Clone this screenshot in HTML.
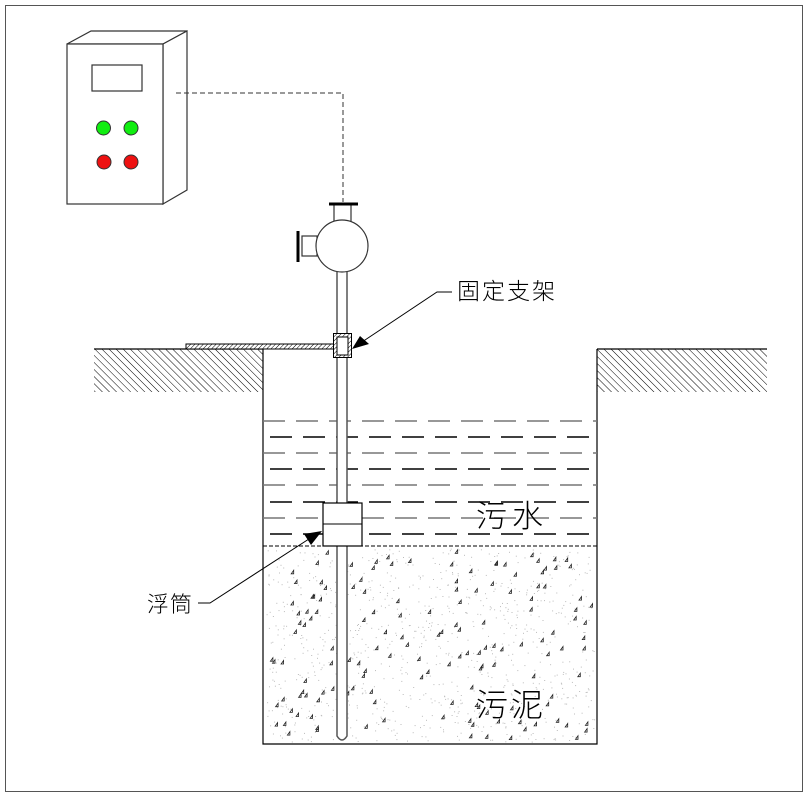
<!DOCTYPE html>
<html><head><meta charset="utf-8"><style>
html,body{margin:0;padding:0;background:#fff}
svg{display:block}
text{font-family:"Liberation Sans","Noto Sans CJK SC",sans-serif;font-weight:300}
</style></head><body>
<svg id="s" width="808" height="797" viewBox="0 0 808 797" xmlns="http://www.w3.org/2000/svg">
<defs>
<pattern id="h" patternUnits="userSpaceOnUse" width="5" height="5" patternTransform="rotate(-45)">
<rect width="5" height="5" fill="#fff"/><line x1="0" y1="0" x2="0" y2="5" stroke="#000" stroke-width="1"/></pattern>
<pattern id="h2" patternUnits="userSpaceOnUse" width="3" height="3" patternTransform="rotate(45)">
<rect width="3" height="3" fill="#fff"/><line x1="0" y1="0" x2="0" y2="3" stroke="#000" stroke-width="1"/></pattern>
</defs>
<rect x="5.5" y="5.5" width="797" height="786" fill="none" stroke="#555" stroke-width="1"/>
<g fill="none" stroke="#333" stroke-width="1.2">
<polygon points="67,44 91,31 187,31 163,44" fill="#fff"/>
<polygon points="163,44 187,31 187,190 163,204" fill="#fff"/>
<rect x="67" y="44" width="96" height="160" fill="#fff"/>
<rect x="92" y="65" width="50" height="26"/>
</g>
<g stroke="#333" stroke-width="1">
<circle cx="103.5" cy="128" r="7" fill="#11ee11"/>
<circle cx="131" cy="128" r="7" fill="#11ee11"/>
<circle cx="104" cy="162" r="7" fill="#ee1111"/>
<circle cx="131" cy="162" r="7" fill="#ee1111"/>
</g>
<polyline points="176,93 343,93 343,202" fill="none" stroke="#333" stroke-width="1" stroke-dasharray="5 3"/>
<rect x="94" y="349" width="169" height="43" fill="url(#h)"/>
<rect x="597" y="349" width="170" height="43" fill="url(#h)"/>
<g stroke="#000" stroke-width="1.2" fill="none">
<line x1="94" y1="349" x2="263" y2="349"/>
<line x1="597" y1="349" x2="767" y2="349"/>
<polyline points="263,349 263,744 597,744 597,349"/>
</g>
<g stroke-width="1.4">
<line x1="263" y1="421" x2="597" y2="421" stroke="#777" stroke-dasharray="22 11"/>
<line x1="270" y1="437" x2="597" y2="437" stroke="#000" stroke-dasharray="22 11"/>
<line x1="263" y1="453" x2="597" y2="453" stroke="#777" stroke-dasharray="22 11"/>
<line x1="270" y1="469" x2="597" y2="469" stroke="#000" stroke-dasharray="22 11"/>
<line x1="263" y1="485" x2="597" y2="485" stroke="#777" stroke-dasharray="22 11"/>
<line x1="270" y1="502" x2="597" y2="502" stroke="#000" stroke-dasharray="22 11"/>
<line x1="263" y1="518" x2="597" y2="518" stroke="#777" stroke-dasharray="22 11"/>
<line x1="270" y1="534" x2="597" y2="534" stroke="#000" stroke-dasharray="22 11"/>
</g>
<line x1="263" y1="546" x2="597" y2="546" stroke="#000" stroke-width="1" stroke-dasharray="4 2"/>
<g id="dots"></g>
<path d="M337,272 L337,736 Q342,744 347,736 L347,272" fill="#fff" stroke="#555" stroke-width="1.5"/>
<g stroke="#333" stroke-width="1.2" fill="#fff">
<rect x="334" y="204" width="17" height="20"/>
<rect x="302" y="236" width="15" height="20"/>
<circle cx="342" cy="246" r="26"/>
</g>
<line x1="329" y1="204" x2="358" y2="204" stroke="#000" stroke-width="3"/>
<line x1="298" y1="231" x2="298" y2="262" stroke="#000" stroke-width="3"/>
<rect x="186" y="344" width="148" height="5" fill="url(#h2)" stroke="#000" stroke-width="1"/>
<rect x="333.5" y="333.5" width="18" height="24" fill="url(#h2)" stroke="#000" stroke-width="1"/>
<rect x="337" y="337" width="11" height="18" fill="#fff" stroke="#000" stroke-width="1"/>
<rect x="323" y="503" width="39" height="43" fill="#fff" stroke="#000" stroke-width="1.2"/>
<line x1="323" y1="524" x2="362" y2="524" stroke="#000" stroke-width="1"/>
<polyline points="452,292 437,292 362,342" fill="none" stroke="#000" stroke-width="1"/>
<polygon points="352,349 360,336 369,344" fill="#000"/>
<polyline points="210,603 198,603 210,603 312,537" fill="none" stroke="#000" stroke-width="1"/>
<polygon points="322,531 304,534 311,545" fill="#000"/>
<text x="457" y="299" font-size="23" letter-spacing="2">固定支架</text>
<text x="147" y="612" font-size="22" letter-spacing="1">浮筒</text>
<text x="476" y="527" font-size="31" letter-spacing="5">污水</text>
<text x="476" y="716" font-size="32" letter-spacing="3">污泥</text>
</svg>
<script>
(function(){var a=987654321;function r(){a|=0;a=a+0x6D2B79F5|0;var t=Math.imul(a^a>>>15,1|a);t=t+Math.imul(t^t>>>7,61|t)^t;return((t^t>>>14)>>>0)/4294967296;}
var g=document.getElementById('dots'),h='';
for(var i=0;i<900;i++){var x=265+r()*330,y=548+r()*194;h+='<rect x="'+x.toFixed(1)+'" y="'+y.toFixed(1)+'" width="1" height="1" fill="#bbb"/>';}
for(var i=0;i<150;i++){var x=266+r()*326,y=552+r()*188;h+='<path d="M'+x.toFixed(1)+','+y.toFixed(1)+' l2.5,-3.5 l0,3.5 z" fill="none" stroke="#222" stroke-width="0.8"/>';}
g.innerHTML=h;})();
</script>
</body></html>
